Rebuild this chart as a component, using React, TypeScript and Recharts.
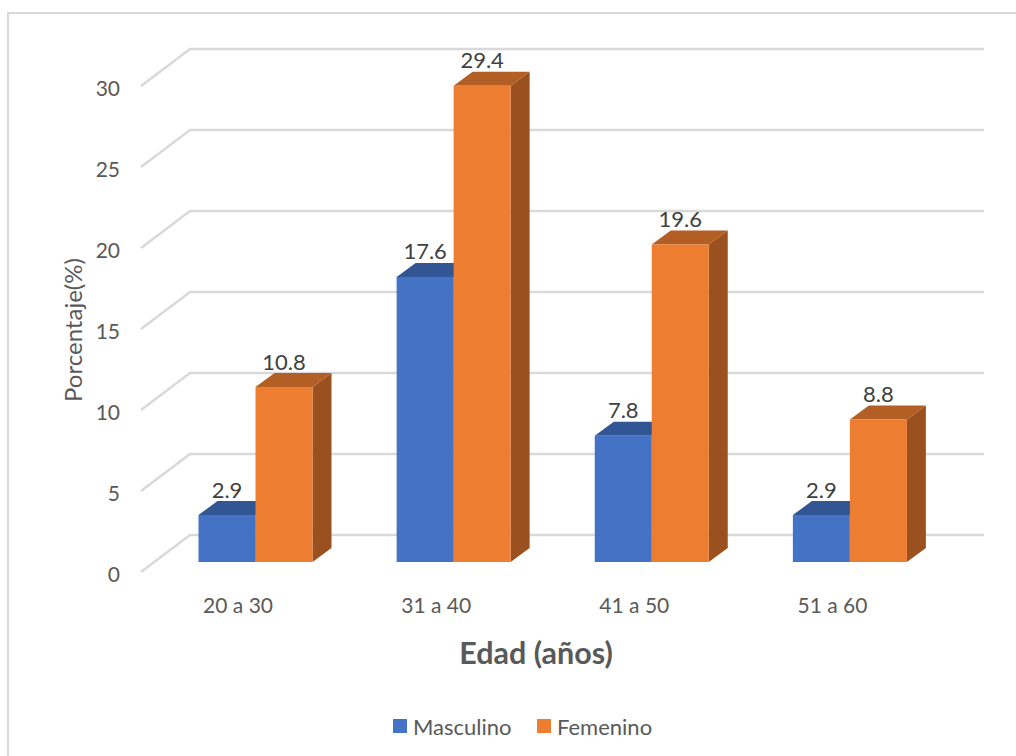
import { Bar, BarChart, CartesianGrid, Label, LabelList, Legend, XAxis, YAxis } from 'recharts'

const categories = ['20 a 30', '31 a 40', '41 a 50', '51 a 60']
const masculino = [2.9, 17.6, 7.8, 2.9]
const femenino = [10.8, 29.4, 19.6, 8.8]
const yTicks = [0, 5, 10, 15, 20, 25, 30]

const rows = categories.map((edad, i) => ({ edad, masculino: masculino[i], femenino: femenino[i] }))

const FONT = 'Lato, sans-serif'
const AXIS_TEXT = '#595959'
const GRID = '#d9d9d9'
const WIDTH = 1016
const HEIGHT = 756

// depth of the extruded bars
const DX = 19
const DY = 14

const BLUE = { front: '#4472c4', top: '#325594', side: '#2f5597' }
const ORANGE = { front: '#ed7d31', top: '#b25e25', side: '#9a511f' }

// Front face plus the two parallelograms that fake the 3D look
function box(colors: typeof BLUE) {
  return (props: any) => {
    const { x, y, width, height } = props
    return (
      <g>
        <polygon
          points={`${x + width},${y} ${x + width + DX},${y - DY} ${x + width + DX},${y + height - DY} ${x + width},${y + height}`}
          fill={colors.side}
        />
        <polygon
          points={`${x},${y} ${x + DX},${y - DY} ${x + width + DX},${y - DY} ${x + width},${y}`}
          fill={colors.top}
        />
        <rect x={x} y={y} width={width} height={height} fill={colors.front} />
      </g>
    )
  }
}

// Gridline on the back wall with its slanted run along the side wall
function gridLine(props: any) {
  const y = props.y1
  return (
    <polyline
      key={y}
      points={`141,${y + 10} 190,${y - 27} 984,${y - 27}`}
      fill="none"
      stroke={GRID}
      strokeWidth={2.5}
    />
  )
}

function YTick({ y, payload }: any) {
  return (
    <text x={120} y={y + 11} textAnchor="end" dominantBaseline="central" fontFamily={FONT} fontSize={21} fill={AXIS_TEXT}>
      {payload.value}
    </text>
  )
}

function XTick({ x, payload }: any) {
  return (
    <text x={x - 17.5} y={604} textAnchor="middle" dominantBaseline="central" fontFamily={FONT} fontSize={21} fill={AXIS_TEXT}>
      {payload.value}
    </text>
  )
}

function ValueLabel({ x, y, width, value }: any) {
  return (
    <text x={x + width / 2} y={y - 26} textAnchor="middle" dominantBaseline="central" fontFamily={FONT} fontSize={22} fill="#404040">
      {value}
    </text>
  )
}

function LegendRow() {
  const items = [
    { name: 'Masculino', color: BLUE.front, left: 393 },
    { name: 'Femenino', color: ORANGE.front, left: 537 },
  ]
  return (
    <div>
      {items.map((it) => (
        <div key={it.name} style={{ position: 'absolute', left: it.left, top: 0, display: 'flex', alignItems: 'center', height: 28 }}>
          <span style={{ width: 14, height: 14, background: it.color, marginRight: 6 }} />
          <span style={{ fontFamily: FONT, fontSize: 22, color: AXIS_TEXT }}>{it.name}</span>
        </div>
      ))}
    </div>
  )
}

export default function App() {
  return (
    <div style={{ position: 'absolute', left: 0, top: 0, width: WIDTH, height: HEIGHT, overflow: 'hidden', background: '#fff' }}>
      <div style={{ position: 'absolute', left: 7, top: 12, width: WIDTH, height: HEIGHT, border: `2px solid ${GRID}` }} />
      <BarChart
        width={WIDTH}
        height={HEIGHT}
        data={rows}
        barSize={57}
        barGap={0}
        margin={{ top: 76, right: 67, bottom: 136, left: 96.5 }}
        style={{ position: 'absolute', left: 0, top: 0 }}
      >
        <CartesianGrid vertical={false} horizontal={gridLine} />
        <XAxis dataKey="edad" height={30} axisLine={false} tickLine={false} tick={<XTick />} interval={0}>
          <Label
            content={() => (
              <text x={536} y={652} textAnchor="middle" dominantBaseline="central" fontFamily={FONT} fontSize={30.5} fontWeight={700} fill={AXIS_TEXT}>
                Edad (años)
              </text>
            )}
          />
        </XAxis>
        <YAxis width={60} domain={[0, 30]} ticks={yTicks} axisLine={false} tickLine={false} tick={<YTick />} interval={0}>
          <Label
            content={() => (
              <text x={72} y={330} transform="rotate(-90 72 330)" textAnchor="middle" dominantBaseline="central" fontFamily={FONT} fontSize={24} fill={AXIS_TEXT}>
                Porcentaje(%)
              </text>
            )}
          />
        </YAxis>
        <Legend content={<LegendRow />} wrapperStyle={{ position: 'absolute', left: 0, top: 712, width: WIDTH, height: 28 }} />
        <Bar dataKey="masculino" name="Masculino" shape={box(BLUE)} isAnimationActive={false}>
          <LabelList dataKey="masculino" content={<ValueLabel />} />
        </Bar>
        <Bar dataKey="femenino" name="Femenino" shape={box(ORANGE)} isAnimationActive={false}>
          <LabelList dataKey="femenino" content={<ValueLabel />} />
        </Bar>
      </BarChart>
    </div>
  )
}
